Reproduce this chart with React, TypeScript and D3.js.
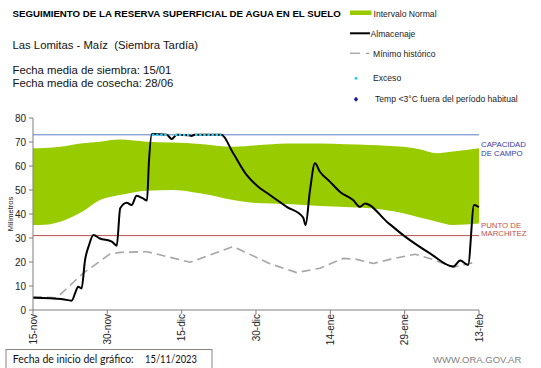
import * as d3 from "d3";

// tamaño del gráfico
const width = 541;
const height = 368;

// eje X: días desde el 15/11/2023
const tickDays = [0, 15, 30, 45, 60, 75, 90];
const tickLabels = ["15-nov", "30-nov", "15-dic", "30-dic", "14-ene", "29-ene", "13-feb"];
const yTicks = [0, 10, 20, 30, 40, 50, 60, 70, 80];

const capacidadCampo = 73;
const puntoMarchitez = 31;

// Intervalo normal (banda verde)
const bandDays = [0, 2.4, 5.5, 10, 13.5, 17.5, 23, 28, 33.7, 40.4, 45, 51.3, 58, 63, 68, 74.7, 78, 81.5, 84.7, 90];
const bandUpper = [67.4, 67.5, 68, 69.5, 70.1, 71, 70.1, 69.8, 69.2, 68, 68.6, 69.4, 69.4, 69.1, 68.8, 68, 67, 65.3, 66, 67.4];
const bandLower = [35.4, 35.5, 36.8, 41, 45.8, 47.9, 49.7, 50, 48.6, 45.8, 44.6, 44.2, 43.3, 42.9, 42.4, 40.3, 38.5, 36.8, 35.4, 36];

// Almacenaje
const almDays = [0, 2, 4.8, 6, 7.8, 8.5, 9.1, 9.8, 10.5, 11.3, 12.2, 13.5, 15.9, 16.9, 17.6, 18.9, 19.9, 20.9, 22.2, 23, 23.4, 24,
  27, 28, 29, 31.4, 32, 32.6, 38, 40.4, 43.1, 45.1, 47.8, 51.2, 54.5, 55, 55.9, 56.9, 57.9, 59.9, 61.9, 64.6, 66, 67,
  71.4, 74.7, 80.1, 84.8, 86.2, 87.8, 89, 90];
const almValues = [5.1, 5.0, 4.7, 4.5, 3.9, 7, 9.7, 9, 20.8, 27, 31.2, 29.8, 28.5, 26.8, 42.4, 44.7, 43.8, 47.6, 46.5, 45.6, 62, 73.3,
  73, 71.2, 73, 72.8, 72.5, 73, 73, 65.3, 56.3, 52, 47.9, 43, 38.6, 35.4, 50, 61.1, 57.6, 53.5, 49.3, 45.8, 43, 44.4,
  36.8, 31.2, 23.6, 18.1, 20.6, 18.8, 43.75, 42.8];

// Mínimo histórico
const minDays = [0, 4.8, 10.1, 15.5, 17.6, 23, 31.7, 40.4, 47.8, 53.2, 57.9, 62.6, 65.3, 68.7, 72, 77.1, 80.1, 84.8, 89.2];
const minValues = [5.5, 5.1, 15.3, 23.3, 24, 24.3, 19.9, 26.4, 19.3, 15.6, 17.4, 21.5, 21.1, 19.4, 21.1, 23.2, 21.5, 17.8, 19.9];

// Exceso (tramos en capacidad de campo)
const excesoInicio = [24, 28.6, 32.7];
const excesoFin = [27.3, 31.5, 38];

const font = "'Liberation Sans', Arial, sans-serif";

const App = () => {
  const x = d3.scaleLinear().domain([0, 90]).range([33, 479]);
  const y = d3.scaleLinear().domain([0, 80]).range([310, 118]);

  const area = d3.area<number>()
    .x((_, i) => x(bandDays[i]))
    .y0((_, i) => y(bandLower[i]))
    .y1(d => y(d))
    .curve(d3.curveMonotoneX);

  const almLine = d3.line<number>()
    .x((_, i) => x(almDays[i]))
    .y(d => y(d))
    .curve(d3.curveMonotoneX);

  const minLine = d3.line<number>()
    .x((_, i) => x(minDays[i]))
    .y(d => y(d));

  return (
    <svg width={width} height={height} style={{position: "absolute", left: 0, top: 0, background: "#fff"}}
         fontFamily={font}>
      {/* título y textos */}
      <text x={12.5} y={17.3} fontSize={9.7} fontWeight="bold" fill="#000">
        SEGUIMIENTO DE LA RESERVA SUPERFICIAL DE AGUA EN EL SUELO
      </text>
      <text x={12.5} y={49} fontSize={11.3} fill="#111" style={{whiteSpace: "pre"}}>
        {"Las Lomitas - Maíz  (Siembra Tardía)"}
      </text>
      <text x={12.5} y={74.3} fontSize={11.3} fill="#111">Fecha media de siembra: 15/01</text>
      <text x={12.5} y={87.3} fontSize={11.3} fill="#111">Fecha media de cosecha: 28/06</text>

      {/* leyenda */}
      <g fontSize={8.6} fill="#222">
        <rect x={350} y={10.5} width={21.5} height={4.5} fill="#99cc00"/>
        <text x={373.5} y={16.5}>Intervalo Normal</text>
        <line x1={350} x2={370} y1={33.3} y2={33.3} stroke="#000" strokeWidth={2}/>
        <text x={370.5} y={36.5}>Almacenaje</text>
        <line x1={350} x2={360} y1={53.3} y2={53.3} stroke="#aaa" strokeWidth={1.5}/>
        <line x1={366} x2={369.5} y1={53.3} y2={53.3} stroke="#888" strokeWidth={1}/>
        <text x={373} y={56.5}>Mínimo histórico</text>
        <circle cx={356} cy={78.3} r={1.5} fill="#33ccee"/>
        <text x={373} y={80.7}>Exceso</text>
        <path d="M356,96.8 l2.2,2.5 l-2.2,2.5 l-2.2,-2.5 Z" fill="#1a1aa0"/>
        <text x={375} y={102}>Temp &lt;3°C fuera del período habitual</text>
      </g>

      {/* banda verde */}
      <path d={area(bandUpper) ?? ""} fill="#99cc00"/>

      {/* líneas de referencia */}
      <line x1={x(0)} x2={x(90)} y1={y(capacidadCampo)} y2={y(capacidadCampo)} stroke="#5b7fc7" strokeWidth={1}/>
      <line x1={x(0)} x2={x(90)} y1={y(puntoMarchitez)} y2={y(puntoMarchitez)} stroke="#c0504d" strokeWidth={1}/>

      {/* mínimo histórico */}
      <path d={minLine(minValues) ?? ""} fill="none" stroke="#a6a6a6" strokeWidth={1.6} strokeDasharray="9,5"/>

      {/* almacenaje */}
      <path d={almLine(almValues) ?? ""} fill="none" stroke="#000" strokeWidth={2} strokeLinejoin="round"/>

      {/* exceso */}
      {excesoInicio.map((d, i) => (
        <line key={i} x1={x(d)} x2={x(excesoFin[i])} y1={y(capacidadCampo)} y2={y(capacidadCampo)}
              stroke="#33ccee" strokeWidth={2.2} strokeDasharray="2.5,1.6"/>
      ))}

      {/* eje Y */}
      <line x1={33} x2={33} y1={y(80)} y2={y(0)} stroke="#7f7f7f" strokeWidth={1}/>
      {yTicks.map(t => (
        <g key={t}>
          <line x1={29} x2={33} y1={y(t)} y2={y(t)} stroke="#7f7f7f"/>
          <text x={26} y={y(t) + 3.5} fontSize={10} textAnchor="end" fill="#222">{t}</text>
        </g>
      ))}
      <text transform={`translate(12.5,${y(40)}) rotate(-90)`} fontSize={7.5} textAnchor="middle" fill="#222">Milímetros</text>

      {/* eje X */}
      <line x1={x(0)} x2={x(90)} y1={y(0)} y2={y(0)} stroke="#7f7f7f" strokeWidth={1}/>
      {tickDays.map((d, i) => (
        <g key={d}>
          <line x1={x(d)} x2={x(d)} y1={y(0)} y2={y(0) + 4} stroke="#7f7f7f"/>
          <text transform={`translate(${x(d) + 3.5},${y(0) + 4}) rotate(-90)`} fontSize={10} textAnchor="end"
                fill="#222">{tickLabels[i]}</text>
        </g>
      ))}

      {/* etiquetas derecha */}
      <g fontSize={7.8} style={{whiteSpace: "pre"}}>
        <text x={481} y={146.7} fill="#3a3aa8">CAPACIDAD</text>
        <text x={481} y={156} fill="#3a3aa8">{"DE  CAMPO"}</text>
        <text x={481} y={227.7} fill="#c0504d">{"PUNTO  DE"}</text>
        <text x={481} y={235.7} fill="#c0504d">MARCHITEZ</text>
      </g>

      {/* recuadro fecha */}
      <rect x={6} y={349.5} width={206} height={20} fill="#fff" stroke="#8c8080" strokeWidth={1}/>
      <text x={12.7} y={362.7} fontSize={11} textLength={121} lengthAdjust="spacingAndGlyphs"
            fontFamily="Lato, 'Open Sans', sans-serif" fill="#111">
        Fecha de inicio del gráfico:
      </text>
      <text x={145} y={362.7} fontSize={11} textLength={52} lengthAdjust="spacingAndGlyphs"
            fontFamily="Lato, 'Open Sans', sans-serif" fill="#111">15/11/2023</text>

      <text x={433} y={363.3} fontSize={9.5} fill="#7f7f7f">WWW.ORA.GOV.AR</text>
    </svg>
  );
};

export default App;
